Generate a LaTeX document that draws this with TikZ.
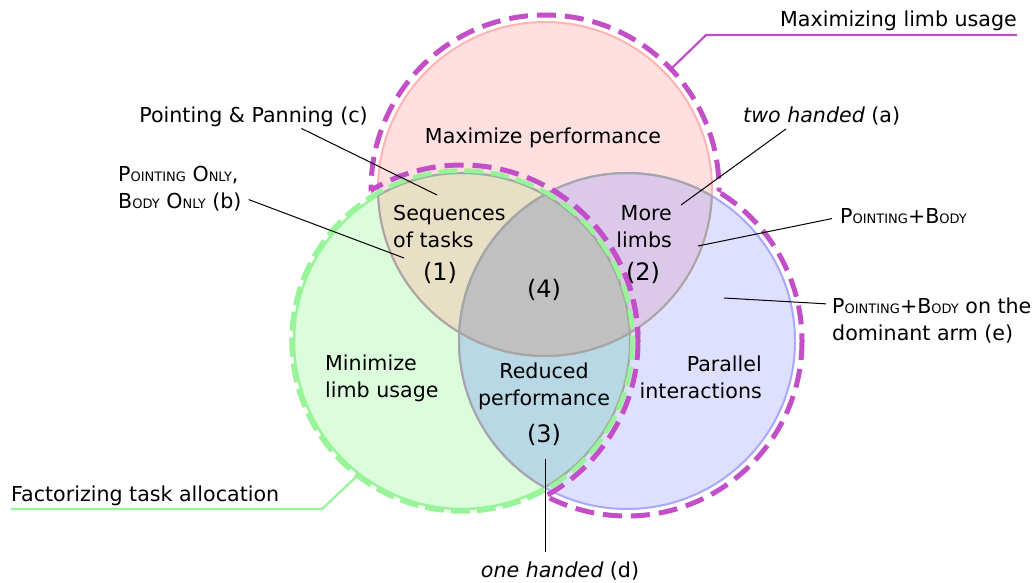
\documentclass[tikz,border=0pt]{standalone}
\usepackage{fontspec}
\setmainfont{DejaVu Sans}
\usetikzlibrary{calc}
\definecolor{redfill}{HTML}{FFDFDF}
\definecolor{redline}{HTML}{FFB4B4}
\definecolor{greenfill}{HTML}{DBFDDB}
\definecolor{greenline}{HTML}{98F498}
\definecolor{bluefill}{HTML}{DFDFFF}
\definecolor{blueline}{HTML}{A8A8FC}
\definecolor{tanfill}{HTML}{E8E0C4}
\definecolor{lilacfill}{HTML}{DCC8E9}
\definecolor{tealfill}{HTML}{B9D8E5}
\definecolor{corefill}{HTML}{C0C0C0}
\definecolor{bordergray}{HTML}{A6A6A6}
\definecolor{magenta}{HTML}{C24FC8}
% fake small caps, as in the drawing
\newcommand\smallcap[2]{#1{\fontsize{13}{26}\selectfont #2}}
\begin{document}
\begin{tikzpicture}[x=1pt,y=-1pt,
  txt/.style={font=\fontsize{20.6}{26.3}\selectfont,inner sep=0pt},
  num/.style={font=\fontsize{24}{28}\selectfont,inner sep=0pt},
  leader/.style={draw=black,line width=1pt},
  graybound/.style={draw=bordergray,line width=2pt},
  magdash/.style={draw=magenta,line width=5pt,dash pattern=on 19pt off 9pt},
  grndash/.style={draw=greenline,line width=4.5pt,dash pattern=on 19pt off 7pt},
  maglead/.style={draw=magenta,line width=2.2pt},
  grnlead/.style={draw=greenline,line width=2.2pt}]
\useasboundingbox (0,0) rectangle (1035,583);

% circle centres
\coordinate (R) at (545,189);
\coordinate (G) at (462,341);
\coordinate (B) at (627,341);

% fills
\fill[redfill] (R) circle[radius=167];
\fill[greenfill] (G) circle[radius=168];
\fill[bluefill] (B) circle[radius=168];
\begin{scope}
  \clip (G) circle[radius=168];
  \fill[tealfill] (B) circle[radius=168];
\end{scope}
\begin{scope}
  \clip (R) circle[radius=167];
  \fill[tanfill] (G) circle[radius=168];
  \fill[lilacfill] (B) circle[radius=168];
  \clip (G) circle[radius=168];
  \fill[corefill] (B) circle[radius=168];
\end{scope}

% outlines
\draw[redline,line width=2pt] (R) circle[radius=167];
\draw[blueline,line width=2pt] (B) circle[radius=168];
\draw[greenline,line width=2.5pt] (G) circle[radius=168];
\begin{scope}
  \clip (G) circle[radius=168];
  \draw[graybound] (R) circle[radius=167];
  \draw[graybound] (B) circle[radius=168];
\end{scope}
\begin{scope}
  \clip (R) circle[radius=167];
  \draw[graybound] (G) circle[radius=168];
  \draw[graybound] (B) circle[radius=168];
\end{scope}
\begin{scope}
  \clip (B) circle[radius=168];
  \draw[graybound] (R) circle[radius=167];
  \draw[graybound] (G) circle[radius=168];
\end{scope}

% dashed groups
\draw[grndash] (G) circle[radius=170.5];
\begin{scope}[even odd rule]
  \clip (0,0) rectangle (1035,583) (B) circle[radius=175];
  \clip (0,0) rectangle (1035,583) (G) circle[radius=176];
  \draw[magdash] (R) circle[radius=174];
\end{scope}
\begin{scope}[even odd rule]
  \clip (0,0) rectangle (1035,583) (R) circle[radius=174];
  \clip (0,0) rectangle (1035,583) (G) circle[radius=176];
  \draw[magdash] (B) circle[radius=175];
\end{scope}
\begin{scope}
  \clip (R) circle[radius=174];
  \draw[magdash] (G) circle[radius=176];
\end{scope}
\begin{scope}
  \clip (B) circle[radius=175];
  \draw[magdash] (G) circle[radius=176];
\end{scope}

% region texts
\node[txt,anchor=base] (perf) at (543,143) {Maximize performance};
\node[txt,align=left,anchor=base west] (seq) at (393,247) {Sequences\\of tasks};
\node[num,anchor=base] (n1) at (440,280) {(1)};
\node[txt,align=right,anchor=base east] (more) at (672,247) {More\\limbs};
\node[num,anchor=base] (n2) at (643,280) {(2)};
\node[num,anchor=base] (n4) at (544,297) {(4)};
\node[txt,align=left,anchor=base west] (mini) at (325,397) {Minimize\\limb usage};
\node[txt,align=center,anchor=base] (redu) at (544,405) {Reduced\\performance};
\node[num,anchor=base] (n3) at (544,442) {(3)};
\node[txt,align=right,anchor=base east] (para) at (762,398) {Parallel\\interactions};

% group labels
\node[txt,anchor=base east] (maxlbl) at (1017,27) {Maximizing limb usage};
\coordinate (maxfoot) at (672,68);
\coordinate (maxknee) at (706,35);
\draw[maglead] (maxfoot) -- (maxknee) -- (maxknee -| maxlbl.east);
\node[txt,anchor=base west] (faclbl) at (11,501) {Factorizing task allocation};
\coordinate (facfoot) at (356,477);
\coordinate (facknee) at (322,509);
\draw[grnlead] (facfoot) -- (facknee) -- (facknee -| faclbl.west);

% technique labels
\node[txt,anchor=base] (pc) at (253.5,122) {Pointing \& Panning (c)};
\coordinate (ctip) at (437,195);
\draw[leader] ([xshift=48pt,yshift=-2pt]pc.south) -- (ctip);

\node[txt,align=left,anchor=base west] (pb) at (118,208)
  {\smallcap{P}{OINTING} \smallcap{O}{NLY},\\\smallcap{B}{ODY} \smallcap{O}{NLY} (b)};
\coordinate (btip) at (404,258);
\draw[leader] ([xshift=7pt,yshift=-11pt]pb.east) -- (btip);

\node[txt,anchor=base west] (pa) at (743,123) {\itshape two handed\upshape{} (a)};
\coordinate (atip) at (681,205);
\draw[leader] ([xshift=43pt,yshift=-3pt]pa.south west) -- (atip);

\node[txt,anchor=base west] (pp) at (840,223) {\smallcap{P}{OINTING}+\smallcap{B}{ODY}};
\coordinate (pptip) at (698,246);
\draw[leader] ([xshift=-8pt,yshift=-3pt]pp.west) -- (pptip);

\node[txt,align=left,anchor=base west] (pe) at (832,340)
  {\smallcap{P}{OINTING}+\smallcap{B}{ODY} on the\\dominant arm (e)};
\coordinate (etip) at (724,298);
\draw[leader] ([xshift=-6pt,yshift=-6pt]pe.north west) -- (etip);

\node[txt,anchor=base] (pd) at (560,577) {\itshape one handed\upshape{} (d)};
\coordinate (dtip) at (545,459);
\draw[leader] (dtip) -- ($(dtip |- pd.north)+(0,-9)$);
\end{tikzpicture}
\end{document}
